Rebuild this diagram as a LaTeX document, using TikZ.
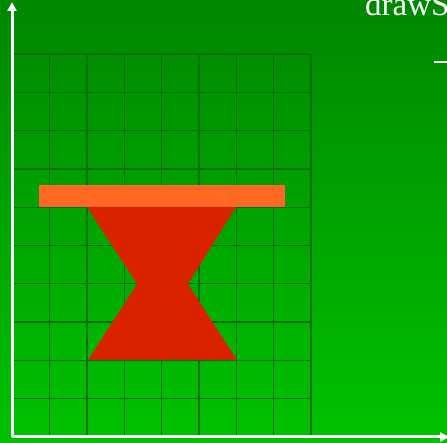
\documentclass[tikz,border=0pt]{standalone}
\usepackage{fontspec}
\setmainfont{Liberation Serif}
\usepackage{xcolor}
\usetikzlibrary{arrows.meta}
\definecolor{bgtop}{RGB}{0,135,0}
\definecolor{bgbot}{RGB}{0,194,0}
\definecolor{gridgreen}{RGB}{0,110,0}
\definecolor{barorange}{RGB}{255,104,34}
\definecolor{glassred}{RGB}{216,34,0}

\begin{document}
\begin{tikzpicture}[x=1pt,y=1pt,
    gridline/.style={draw=gridgreen,line width=1.3pt},
    axis/.style={draw=white,line width=3pt,-{Triangle[width=9pt,length=9pt]}}]
  \useasboundingbox (0,0) rectangle (447,443);
  \shade[top color=bgtop,bottom color=bgbot] (0,0) rectangle (447,443);
  % grid
  \foreach \i in {0,...,8}
    \draw[gridline] (12.5+\i*37.3,6) -- (12.5+\i*37.3,389);
  \foreach \j in {0,...,10}
    \draw[gridline] (12.5,6+\j*38.3) -- (311,6+\j*38.3);
  % shapes
  \fill[barorange] (39,236) rectangle (285,258);
  \fill[glassred] (87,236) -- (236,236) -- (188,159) -- (237,83)
    -- (88,83) -- (137,159) -- cycle;
  % axes
  \coordinate (origin) at (12,6);
  \coordinate (ytip) at (12,441);
  \coordinate (xtip) at (449,6);
  \draw[axis] (origin) -- (ytip);
  \draw[axis] (origin) -- (xtip);
  \draw[white,line width=2pt] (434,381) -- (447,381);
  \node[anchor=base west,inner sep=0pt,text=white,font=\fontsize{33}{33}\selectfont]
    (title) at (365,427) {drawS};
\end{tikzpicture}
\end{document}
